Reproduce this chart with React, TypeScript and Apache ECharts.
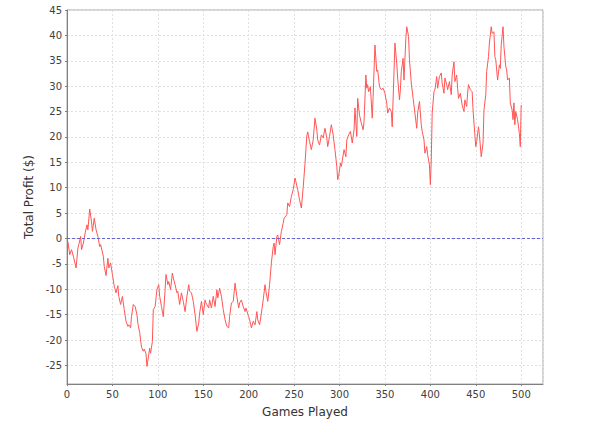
import React, { useEffect, useRef } from "react";
import * as echarts from "echarts";

const games: number[] = [
  1, 3, 5, 7, 10, 12, 13, 15, 16, 18, 20, 22, 23, 25, 27, 28, 30, 32, 34, 36, 37, 40, 41, 43, 45, 46, 48, 50,
  52, 54, 56, 57, 59, 61, 63, 65, 67, 68, 70, 71, 73, 75, 77, 78, 80, 82, 84, 85, 87, 88, 90, 91, 92, 94, 95,
  97, 99, 101, 102, 104, 106, 108, 109, 111, 112, 114, 116, 117, 119, 121, 122, 124, 126, 128, 130, 132, 134,
  135, 137, 139, 141, 143, 145, 146, 148, 150, 152, 153, 156, 157, 159, 161, 163, 165, 166, 168, 170, 172, 174,
  176, 178, 179, 181, 183, 185, 187, 189, 190, 192, 194, 196, 197, 200, 201, 203, 205, 207, 209, 210, 212, 214,
  216, 218, 219, 221, 223, 225, 227, 228, 229, 231, 232, 234, 236, 238, 239, 242, 243, 245, 247, 249, 251, 252,
  254, 256, 258, 260, 262, 264, 265, 267, 269, 271, 273, 275, 276, 278, 280, 282, 284, 286, 287, 289, 291, 293,
  295, 297, 298, 299, 301, 302, 305, 307, 308, 310, 312, 314, 316, 317, 319, 320, 322, 324, 326, 327, 329, 330,
  331, 332, 334, 336, 337, 339, 341, 342, 344, 346, 348, 350, 352, 353, 355, 357, 358, 360, 361, 363, 364, 366,
  367, 368, 370, 371, 373, 374, 376, 377, 379, 381, 383, 385, 386, 388, 390, 391, 393, 394, 396, 397, 399, 400,
  401, 402, 404, 405, 407, 408, 410, 412, 413, 415, 416, 418, 419, 421, 423, 424, 426, 427, 429, 430, 431, 433,
  435, 437, 438, 440, 441, 442, 444, 446, 447, 449, 450, 451, 453, 454, 456, 458, 459, 461, 462, 464, 465, 467,
  468, 470, 471, 472, 474, 476, 477, 478, 480, 481, 483, 484, 485, 487, 488, 490, 491, 492, 493, 494, 496, 498,
  499, 500,
];

const profit: number[] = [
  -0.6, -3.2, -2.2, -3.5, -5.8, -1.9, -1.2, 0.4, -2.2, -0.9, 1.1, 2.7, 1.7, 5.8, 3.3, 1.4, 4.0, 1.7, 0.4, -1.6,
  -1.2, -3.5, -5.5, -7.3, -3.9, -5.8, -4.8, -7.1, -9.4, -10.7, -9.3, -11.4, -13, -11.4, -14, -16.3, -17.3, -17,
  -17.6, -15.4, -13, -13.4, -15, -16.7, -18.5, -21.4, -22.2, -21.8, -22.7, -25.2, -22.9, -21.6, -22.6, -20.3,
  -14, -13.4, -10.1, -9.1, -11.4, -13.4, -15.4, -10.1, -7.1, -9.1, -8.5, -10.1, -6.8, -7.8, -9.1, -10.7, -10.4,
  -13, -10.7, -12.4, -14.4, -11.4, -9.1, -10.4, -10.7, -12.4, -15, -18.3, -16.7, -14.7, -12.4, -15, -12.1,
  -12.7, -13.7, -12.1, -13.7, -11.4, -13.4, -10.1, -11.7, -9.8, -11.4, -14, -16, -17.3, -17.6, -15.4, -12.7,
  -12.4, -8.8, -11.4, -13.7, -12.7, -12.1, -13.4, -14.4, -13.7, -15.4, -16, -17.6, -16.3, -17, -14.4, -16, -17,
  -14.7, -12.1, -9.1, -10.4, -12.4, -9.1, -4.8, -1.6, -0.9, -3.2, 0.4, 0.7, -1.2, 1.4, 3, 4, 4.7, 7, 6.3, 8.3,
  9.6, 11.9, 11.2, 9.6, 7.6, 6, 10, 14.8, 20.2, 21, 19.1, 17.5, 19.4, 23.7, 21.4, 19.4, 18.4, 20.4, 19.8, 21.7,
  19.8, 18.1, 20.1, 22.4, 20.4, 17.5, 14.2, 11.6, 12.2, 14.8, 14.2, 17.5, 16.1, 19.4, 20.4, 21.1, 18.8, 21.4,
  25.7, 20.1, 27.6, 24.3, 22.7, 21.4, 23, 32.2, 29.6, 30.3, 28.9, 29.9, 23.7, 28, 38.1, 32.9, 33.2, 29.9, 29.3,
  29.6, 28.6, 26.6, 24.7, 25.7, 25, 22, 32.9, 38.5, 34.5, 31.6, 27.3, 29.3, 32.9, 35.5, 31.2, 39.4, 41.7, 39.8,
  35.2, 30.6, 27.6, 24.7, 21.7, 24.7, 27, 22.4, 21.1, 19.4, 16.8, 18.1, 16.5, 14.5, 10.6, 15.5, 24.7, 28.9, 29.3,
  31.9, 29.6, 31.9, 32.6, 30.6, 28.6, 31.6, 30.3, 29.3, 30.9, 28.3, 32.2, 34.8, 30.9, 32.2, 29.6, 27.6, 28.6,
  26.3, 25, 27.3, 26, 28.6, 30.3, 29.3, 28.9, 25.3, 20.4, 18.1, 19.1, 22, 20.4, 16.1, 18.8, 25.3, 28.3, 32.9,
  35.8, 38.5, 41.7, 40.4, 40.7, 35.8, 35.2, 31.2, 34.2, 33.5, 38.1, 41.7, 37.8, 33.9, 33.2, 31.2, 31.6, 26.7,
  25.3, 23.4, 26.7, 22.4, 25, 23.4, 20.7, 18.1, 26.3,
];

const xTitle = "Games Played";
const yTitle = "Total Profit ($)";

export default function App() {
  const ref = useRef<HTMLDivElement>(null);
  useEffect(() => {
    if (!ref.current) return;
    const chart = echarts.init(ref.current, undefined, { renderer: "svg" });
    const font = "DejaVu Sans";
    const gridLine = { show: true, lineStyle: { color: "#e0e0e0", type: [2, 2] as any, width: 1 } };
    chart.setOption({
      animation: false,
      backgroundColor: "#ffffff",
      grid: {
        left: 67,
        right: 52,
        top: 10,
        bottom: 41,
        show: true,
        borderColor: "#a8a8a8",
        borderWidth: 1,
        backgroundColor: "#ffffff",
      },
      xAxis: {
        type: "value",
        min: 0,
        max: 524,
        splitNumber: 10,
        minInterval: 50,
        maxInterval: 50,
        name: xTitle,
        nameLocation: "middle",
        nameGap: 22,
        nameTextStyle: { fontFamily: font, fontSize: 12, color: "#333" },
        axisLine: { show: true, onZero: false, lineStyle: { color: "#808080", width: 1 } },
        axisTick: { show: true, length: 2, lineStyle: { color: "#808080" } },
        axisLabel: {
          fontFamily: font,
          fontSize: 10,
          color: "#404040",
          margin: 5,
          showMaxLabel: false,
        },
        splitLine: gridLine,
      },
      yAxis: {
        type: "value",
        min: -28.66,
        max: 45,
        splitNumber: 15,
        minInterval: 5,
        maxInterval: 5,
        name: yTitle,
        nameLocation: "middle",
        nameGap: 31,
        nameRotate: 90,
        nameTextStyle: { fontFamily: font, fontSize: 12, color: "#333" },
        axisLine: { show: true, onZero: false, lineStyle: { color: "#808080", width: 1 } },
        axisTick: { show: true, length: 2, lineStyle: { color: "#808080" } },
        axisLabel: {
          fontFamily: font,
          fontSize: 10,
          color: "#404040",
          margin: 5,
          showMinLabel: false,
        },
        splitLine: gridLine,
      },
      series: [
        {
          type: "line",
          data: games.map((g, i) => [g, profit[i]]),
          showSymbol: false,
          symbol: "none",
          lineStyle: { color: "#ff5555", width: 1 },
          itemStyle: { color: "#ff5555" },
          markLine: {
            silent: true,
            symbol: "none",
            label: { show: false },
            lineStyle: { color: "#6464d2", type: [3, 2] as any, width: 1 },
            data: [{ yAxis: 0 }],
          },
          z: 3,
        },
      ],
    });
    return () => chart.dispose();
  }, []);
  return (
    <div
      ref={ref}
      style={{ position: "fixed", left: 0, top: 0, width: 595, height: 425 }}
    />
  );
}
